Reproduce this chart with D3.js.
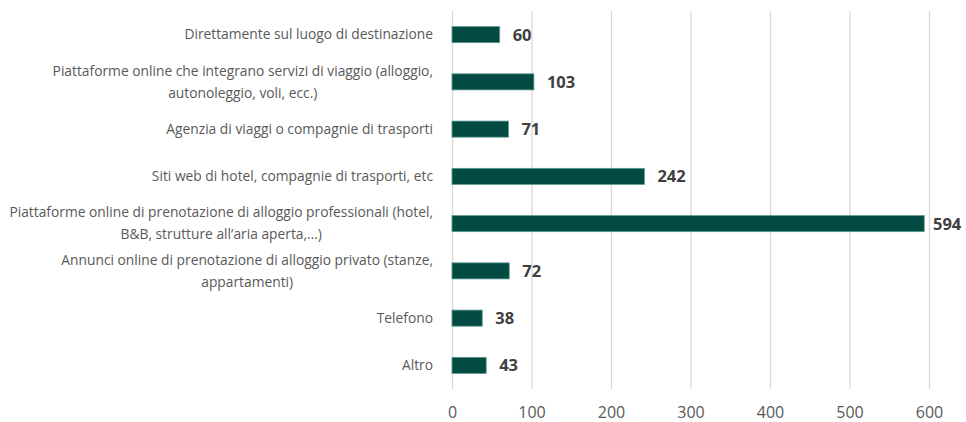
<!DOCTYPE html>
<html>
<head>
<meta charset="utf-8">
<script src="https://cdn.jsdelivr.net/npm/d3@7"></script>
<style>
  body { margin: 0; background: #fff; }
  svg { display: block; }
</style>
</head>
<body>
<div id="chart"></div>
<script>
// categories, top to bottom ("\n" marks the line break in the label)
var categories = [
    "Direttamente sul luogo di destinazione",
    "Piattaforme online che integrano servizi di viaggio (alloggio,\nautonoleggio, voli, ecc.)",
    "Agenzia di viaggi o compagnie di trasporti",
    "Siti web di hotel, compagnie di trasporti, etc",
    "Piattaforme online di prenotazione di alloggio professionali (hotel,\nB&B, strutture all\u2019aria aperta,\u2026)",
    "Annunci online di prenotazione di alloggio privato (stanze,\nappartamenti)",
    "Telefono",
    "Altro"
];
var values = [60, 103, 71, 242, 594, 72, 38, 43];
var ticks = [0, 100, 200, 300, 400, 500, 600];

var width = 966, height = 422;
var margin = { top: 11, right: 37, bottom: 33, left: 452 };

var svg = d3.select("#chart").append("svg")
    .attr("width", width)
    .attr("height", height);

var x = d3.scaleLinear()
    .domain([0, 600])
    .range([margin.left, width - margin.right]);

var y = d3.scaleBand()
    .domain(categories)
    .range([margin.top, height - margin.bottom])
    .paddingInner(0.66)
    .paddingOuter(0.33);

// vertical gridlines (0 line included)
svg.append("g")
    .selectAll("line")
    .data(ticks)
    .join("line")
    .attr("x1", d => x(d) + 0.5)
    .attr("x2", d => x(d) + 0.5)
    .attr("y1", margin.top)
    .attr("y2", height - margin.bottom)
    .attr("stroke", "#d9d9d9")
    .attr("stroke-width", 1.3);

// x axis tick labels
var xAxis = d3.axisBottom(x).tickValues(ticks).tickSize(0).tickPadding(0);
var gx = svg.append("g")
    .attr("transform", "translate(0," + (height - margin.bottom + 18) + ")")
    .call(xAxis);
gx.select(".domain").remove();
gx.selectAll("text")
    .attr("dy", "0.71em")
    .style("font-family", "'Open Sans', sans-serif")
    .style("font-size", "16px")
    .attr("fill", "#595959");

// bars
svg.append("g")
    .selectAll("rect")
    .data(values)
    .join("rect")
    .attr("x", x(0))
    .attr("y", (d, i) => y(categories[i]))
    .attr("width", d => x(d) - x(0))
    .attr("height", y.bandwidth())
    .attr("fill", "#034b42")
    .attr("stroke", "#5d9990")
    .attr("stroke-width", 0.8);

// value labels
svg.append("g")
    .selectAll("text")
    .data(values)
    .join("text")
    .attr("x", d => Math.min(x(d) + 13, width - 33))
    .attr("y", (d, i) => y(categories[i]) + y.bandwidth() / 2)
    .attr("dy", "0.36em")
    .style("font-family", "'Open Sans', sans-serif")
    .style("font-size", "16.5px")
    .style("font-weight", "bold")
    .attr("fill", "#404040")
    .text(d => d);

// category labels, centered lines, right aligned block
var lineHeight = 22;
var labels = svg.append("g")
    .selectAll("g")
    .data(categories)
    .join("g")
    .attr("transform", d => "translate(433," + (y(d) + y.bandwidth() / 2) + ")");

labels.each(function (d) {
    var g = d3.select(this);
    var lines = d.split("\n");
    var t = g.append("text")
        .style("font-family", "'Open Sans', sans-serif")
        .style("font-size", "13.8px")
        .attr("fill", "#595959");
    lines.forEach(function (line, i) {
        t.append("tspan")
            .attr("x", 0)
            .attr("y", (i - (lines.length - 1) / 2) * lineHeight)
            .attr("dy", "0.35em")
            .text(line);
    });
    // first line sets the right edge; other lines centered under it
    var spans = t.selectAll("tspan").nodes();
    var w0 = spans[0].getComputedTextLength();
    spans.forEach(function (s) {
        s.setAttribute("x", -w0 / 2);
    });
    t.attr("text-anchor", "middle");
});
</script>
</body>
</html>
